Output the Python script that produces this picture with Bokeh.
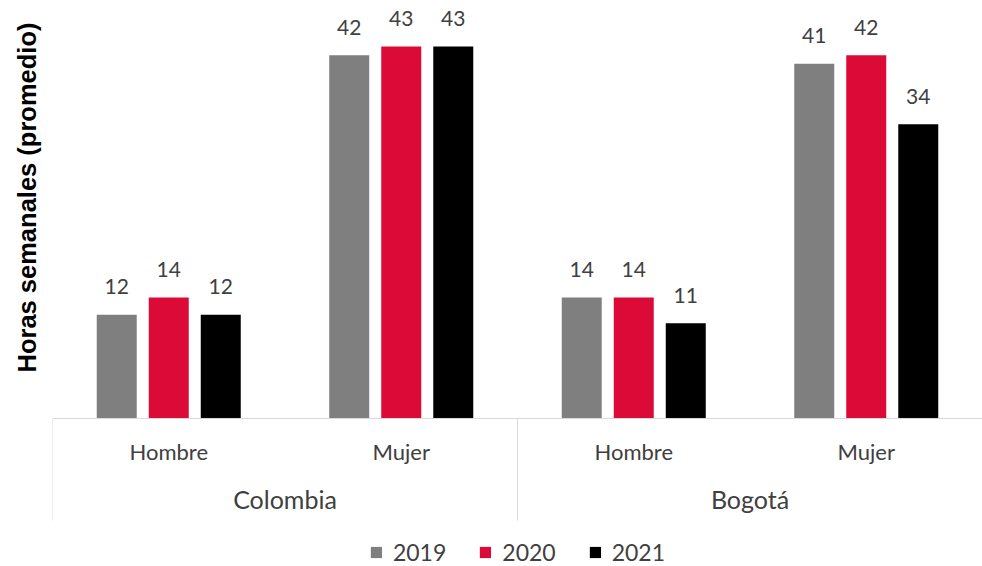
import math
from bokeh.plotting import figure
from bokeh.models import ColumnDataSource, FactorRange, Range1d, Span, Title
from bokeh.transform import dodge
from bokeh.core.properties import value
from bokeh.embed import file_html
from bokeh.resources import INLINE

# ---- data ----
countries = ["Colombia", "Bogotá"]
genders = ["Hombre", "Mujer"]
years = ["2019", "2020", "2021"]
v2019 = [12, 42, 14, 41]
v2020 = [14, 43, 14, 42]
v2021 = [12, 43, 11, 34]
y_title = "Horas semanales (promedio)"

colors = ["#7F7F7F", "#DC0A37", "#000000"]
FONT = "Lato"
TXT = "#404040"

factors = [(c, g) for c in countries for g in genders]

src = ColumnDataSource(dict(
    x=factors,
    v2019=v2019, v2020=v2020, v2021=v2021,
    t2019=[str(v) for v in v2019],
    t2020=[str(v) for v in v2020],
    t2021=[str(v) for v in v2021],
    gender=[f[1] for f in factors],
))

x_range = FactorRange(*factors, factor_padding=0, group_padding=0, range_padding=0)

p = figure(width=982, height=566, x_range=x_range, y_range=Range1d(-17.11, 48.32),
           output_backend="svg", toolbar_location=None,
           x_axis_location=None, y_axis_location=None,
           min_border_left=52, min_border_right=0, min_border_top=0, min_border_bottom=0)
p.outline_line_color = None
p.grid.visible = False
p.background_fill_color = "white"
p.border_fill_color = "white"

offsets = [-0.2237, 0.0, 0.2237]
bw = 0.172
for yr, off, col in zip(years, offsets, colors):
    xd = dodge("x", off, range=p.x_range)
    p.vbar(x=xd, top="v" + yr, width=bw, bottom=0, fill_color=col, line_color=None,
           source=src, legend_label=yr)
    p.text(x=xd, y="v" + yr, text="t" + yr, source=src, text_align="center",
           text_baseline="alphabetic", y_offset=-28, text_font=value(FONT),
           text_font_size="21px", text_color=TXT)

# axis baseline
p.add_layout(Span(location=0, dimension="width", line_color="#D9D9D9", line_width=1))

# separators between groups
sep_src = ColumnDataSource(dict(x=[(c, genders[0]) for c in countries]))
p.segment(x0=dodge("x", -0.5, range=p.x_range), y0=0,
          x1=dodge("x", -0.5, range=p.x_range), y1=-11.8,
          source=sep_src, line_color="#D9D9D9", line_width=1)

# sub-category labels
p.text(x="x", y=-3.8, text="gender", source=src, text_align="center",
       text_baseline="middle", text_font=value(FONT), text_font_size="22px", text_color=TXT)

# group labels
grp_src = ColumnDataSource(dict(x=[(c, genders[1]) for c in countries], name=countries))
p.text(x=dodge("x", -0.5, range=p.x_range), y=-9.25, text="name", source=grp_src,
       text_align="center", text_baseline="middle", text_font=value(FONT),
       text_font_size="25px", text_color=TXT)

# y title
p.add_layout(Title(text=y_title, align="right", vertical_align="top", offset=22, standoff=20,
                   text_font="Liberation Sans", text_font_style="bold",
                   text_font_size="25.5px", text_color="#000000"), "left")

lg = p.legend[0]
lg.location = "bottom_center"
lg.orientation = "horizontal"
lg.border_line_color = None
lg.background_fill_alpha = 0
lg.label_text_font = FONT
lg.label_text_font_size = "23px"
lg.label_text_color = TXT
lg.glyph_width = 14
lg.glyph_height = 14
lg.label_standoff = 10
lg.spacing = 32
lg.padding = 0
lg.margin = 0
lg.label_height = 22

open("out.html", "w").write(file_html(p, INLINE))
